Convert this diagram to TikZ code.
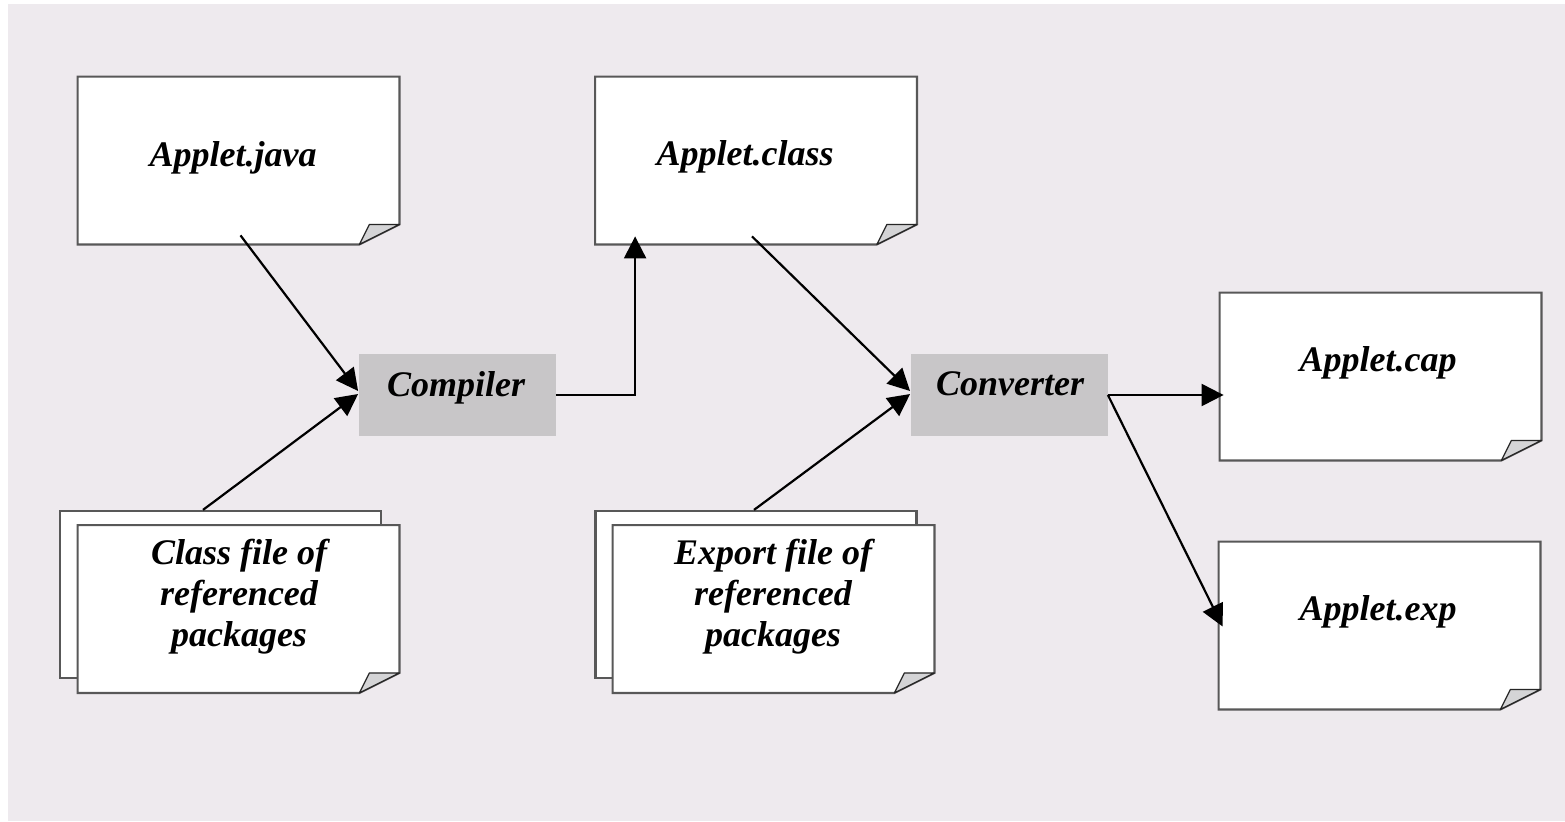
\documentclass[tikz,border=0pt]{standalone}
\usepackage{fontspec}
\setmainfont{Liberation Serif}
\usetikzlibrary{arrows.meta,calc}

\definecolor{backdrop}{RGB}{238,234,238}
\definecolor{toolgrey}{RGB}{200,198,200}
\definecolor{flapgrey}{RGB}{212,212,214}
\definecolor{edgegrey}{RGB}{88,88,88}

\tikzset{
  sheet/.style={minimum width=160.5pt, minimum height=83.5pt, inner sep=0pt},
  backsheet/.style={sheet, draw=edgegrey, line width=1.1pt, fill=white},
  frame/.style={draw=edgegrey, line width=1.1pt, fill=white, line join=miter},
  flap/.style={draw=black!85, line width=0.6pt, fill=flapgrey, line join=round},
  tool/.style={fill=toolgrey, minimum width=98.5pt, minimum height=41pt, inner sep=0pt},
  fname/.style={font=\bfseries\itshape\fontsize{18}{20.5}\selectfont, align=center, inner sep=0pt},
  flow/.style={-{Triangle[length=11pt,width=11pt]}, line width=1.1pt}
}

% outline of a sheet with its lower right corner turned up
\newcommand{\pageframe}[1]{%
  \filldraw[frame] (#1.north west) -- (#1.north east) -- ($(#1.south east)+(0,-20)$)
    -- ($(#1.south east)+(-40,0)$) -- (#1.south west) -- cycle;
  \filldraw[flap] ($(#1.south east)+(-40,0)$) -- ($(#1.south east)+(-30,-20)$)
    -- ($(#1.south east)+(0,-20)$) -- cycle;
}

\begin{document}
\begin{tikzpicture}[x=0.5pt, y=-0.5pt]
  \useasboundingbox (0,0) rectangle (1565,821);
  \fill[backdrop] (8,4) rectangle (1565,821);

  \node[backsheet] (classB) at (220.5,594.5) {};
  \node[backsheet] (exportB) at (756,594.5) {};
  \node[sheet] (java) at (238.5,160.5) {};
  \node[sheet] (class) at (756,160.5) {};
  \node[sheet] (cap) at (1380.5,376.5) {};
  \node[sheet] (exp) at (1379.5,625.5) {};
  \node[sheet] (classF) at (238.5,609) {};
  \node[sheet] (exportF) at (773.5,609) {};
  \foreach \p in {java,class,cap,exp,classF,exportF}
    \pageframe{\p};

  \node[tool] (compiler) at (457,395) {};
  \node[tool] (converter) at (1009,395) {};

  \node[fname] (java-t) at (233,158) {Applet.java};
  \node[fname] (class-t) at (745,157) {Applet.class};
  \node[fname] (cap-t) at (1378,363) {Applet.cap};
  \node[fname] (exp-t) at (1378,612) {Applet.exp};
  \node[fname] (classF-t) at (239,597) {Class file of\\referenced\\packages};
  \node[fname] (exportF-t) at (773,597) {Export file of\\referenced\\packages};
  \node[fname] (compiler-t) at (456,388) {Compiler};
  \node[fname] (converter-t) at (1010,384) {Converter};

  \begin{scope}[flow]
    \draw ($(java.south)+(2,-9)$) -- ($(compiler.west)+(0,-4)$);
    \draw ($(classB.north)+(-17.5,0)$) -- ($(compiler.west)+(0,-1)$);
    \draw (compiler.east) -| ($(class.south west)+(40,-8)$);
    \draw ($(class.south)+(-4,-8)$) -- ($(converter.west)+(0,-4)$);
    \draw ($(exportB.north)+(-2,0)$) -- ($(converter.west)+(0,-1)$);
    \draw (converter.east) -- ($(converter.east -| cap.west)+(4,0)$);
    \draw (converter.east) -- ($(exp.west)+(4,1)$);
  \end{scope}
\end{tikzpicture}
\end{document}
